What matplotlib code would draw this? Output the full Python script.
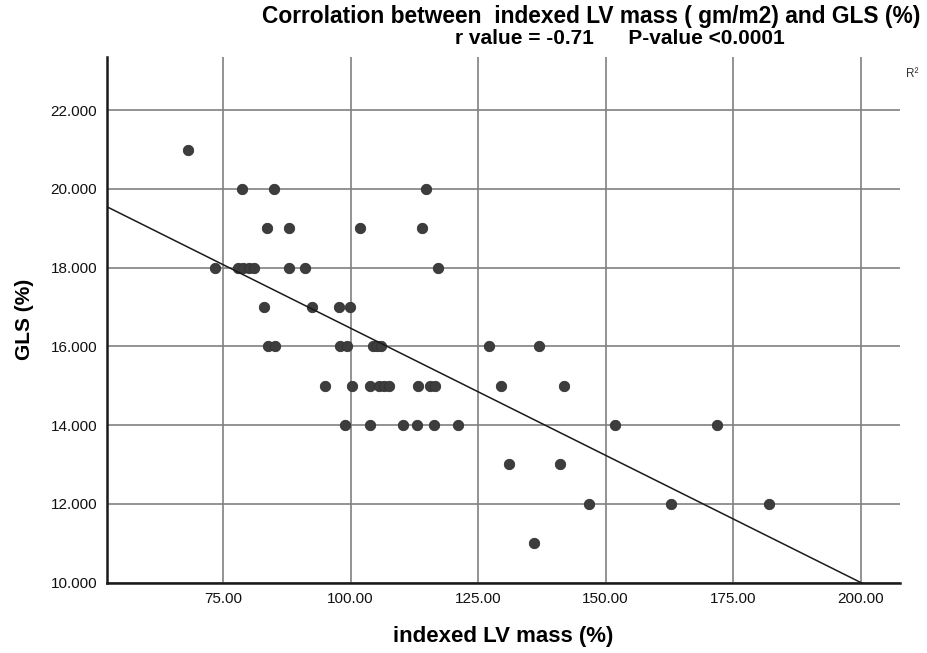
import numpy as np
import matplotlib
matplotlib.use("Agg")
import matplotlib.pyplot as plt

# indexed LV mass (x) vs GLS (y)
lv_mass = [
    68.1,
    78.8, 85.0, 114.7,
    83.6, 88.0, 101.9, 114.0,
    73.5, 78.0, 79.0, 80.0, 81.0, 88.0, 91.0, 117.2,
    83.1, 92.5, 97.7, 99.8,
    83.8, 85.2, 98.0, 99.3, 104.3, 105.2, 106.0, 127.2, 136.9,
    95.0, 100.2, 103.9, 105.5, 106.5, 107.6, 113.3, 115.5, 116.6, 129.4, 141.9,
    98.9, 103.8, 110.2, 113.0, 116.3, 121.0, 151.9, 171.9,
    131.1, 141.0,
    146.8, 162.8, 182.0,
    136.0,
]
gls = [
    21,
    20, 20, 20,
    19, 19, 19, 19,
    18, 18, 18, 18, 18, 18, 18, 18,
    17, 17, 17, 17,
    16, 16, 16, 16, 16, 16, 16, 16, 16,
    15, 15, 15, 15, 15, 15, 15, 15, 15, 15, 15,
    14, 14, 14, 14, 14, 14, 14, 14,
    13, 13,
    12, 12, 12,
    11,
]

# fit line as drawn in the picture
fit_slope = -0.0646
fit_intercept = 22.92

x_ticks = [75, 100, 125, 150, 175, 200]
y_ticks = [10, 12, 14, 16, 18, 20, 22]

plt.rcParams['font.family'] = ['Liberation Sans', 'DejaVu Sans']

fig = plt.figure(figsize=(9.27, 6.53), dpi=100)
ax = fig.add_axes([107 / 927, 1 - 582.5 / 653, (900 - 107) / 927, (582.5 - 57) / 653])

ax.set_xlim(52.25, 207.7)
ax.set_ylim(10, 23.35)
ax.set_xticks(x_ticks)
ax.set_yticks(y_ticks)
ax.set_xticklabels([f"{v:.2f}" for v in x_ticks])
ax.set_yticklabels([f"{v:.3f}" for v in y_ticks])
ax.tick_params(length=0, labelsize=11, pad=7, labelcolor='#111111')

ax.grid(True, color='#808080', linewidth=1.2)
ax.set_axisbelow(True)
for side in ['top', 'right']:
    ax.spines[side].set_visible(False)
for side in ['left', 'bottom']:
    ax.spines[side].set_linewidth(1.8)
    ax.spines[side].set_color('#1a1a1a')

ax.scatter(lv_mass, gls, s=56, color='#3d3d3d', edgecolors='#333333', linewidths=0.6, zorder=3)

xs = np.array([52.25, 207.7])
ax.plot(xs, fit_intercept + fit_slope * xs, color='#1a1a1a', linewidth=1.1, zorder=4)

ax.set_xlabel('indexed LV mass (%)', fontsize=16, fontweight='bold', labelpad=14)
ax.set_ylabel('GLS (%)', fontsize=15, fontweight='bold', labelpad=12)

fig.text(262 / 927, 1 - 17 / 653, 'Corrolation between  indexed LV mass ( gm/m2) and GLS (%)',
         fontsize=16.4, fontweight='bold', ha='left', va='center')
fig.text(455 / 927, 1 - 38 / 653, 'r value = -0.71      P-value <0.0001',
         fontsize=15, fontweight='bold', ha='left', va='center')
fig.text(912 / 927, 1 - 74 / 653, 'R\u00b2', fontsize=8.5, ha='center', va='center', color='#333333')

fig.savefig('out.png', dpi=100)
